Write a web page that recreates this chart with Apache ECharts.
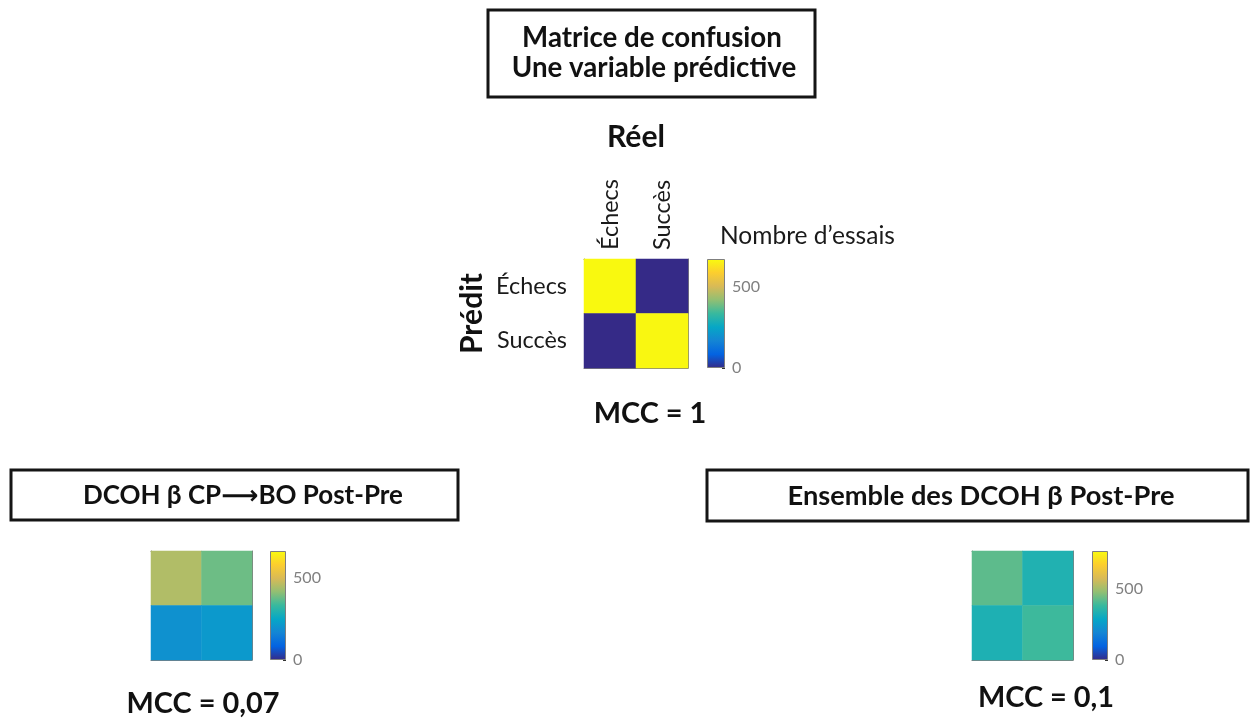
<!DOCTYPE html>
<html>
<head>
<meta charset="utf-8">
<script src="https://cdn.jsdelivr.net/npm/echarts@6/dist/echarts.min.js"></script>
<style>
html,body{margin:0;padding:0;background:#fff;}
#c{width:1255px;height:719px;}
</style>
</head>
<body>
<div id="c"></div>
<script>
// ---------- DATA ----------
const categories = ['Échecs', 'Succès'];           // real (columns) and predicted (rows)
// rows = predicted [Échecs, Succès], columns = real [Échecs, Succès]
const mainValues = [[670, 0], [0, 665]];
const leftValues = [[450, 380], [195, 215]];
const rightValues = [[425, 340], [335, 390]];
const mainMax = 673;
const leftMax = 663;
const rightMax = 770;
const colorbarTicks = [0, 500];
const mainTitleLines = ['Matrice de confusion', 'Une variable prédictive'];
const leftTitle = 'DCOH β CP⟶BO Post-Pre';
const rightTitle = 'Ensemble des DCOH β Post-Pre';
const mccLabels = ['MCC = 1', 'MCC = 0,07', 'MCC = 0,1'];
const colorbarName = 'Nombre d’essais';
const xName = 'Réel';
const yName = 'Prédit';

// ---------- STYLE ----------
const FONT = 'Lato, "Open Sans", "DejaVu Sans", sans-serif';
const parula = ['#352a87', '#0363e1', '#1485d4', '#06a7c6', '#38b99e', '#92bf73', '#d9ba56', '#fcce2e', '#f9fb0e'];
const cv = document.createElement('canvas').getContext('2d');
function fit(text, target, weight) {
  cv.font = (weight || 'normal') + ' 100px ' + FONT;
  return 100 * target / cv.measureText(text).width;
}

function heatData(m) {
  const d = [];
  m.forEach((row, r) => row.forEach((v, c) => d.push([c, r, v])));
  return d;
}

const chart = echarts.init(document.getElementById('c'), null, {renderer: 'canvas'});

const hm = [
  {left: 584, top: 259, width: 104, height: 109, values: mainValues, max: mainMax, cb: {left: 707, width: 18}, labels: true},
  {left: 151, top: 551, width: 101, height: 109, values: leftValues, max: leftMax, cb: {left: 270, width: 16}, labels: false},
  {left: 972, top: 551, width: 101, height: 109, values: rightValues, max: rightMax, cb: {left: 1092, width: 16}, labels: false}
];

const labFs = fit('Échecs', 71, 'normal');
const grids = [], xAxes = [], yAxes = [], series = [], visualMaps = [];
const frame = '#7f7f7f';

hm.forEach((h, i) => {
  const gi = grids.length;
  grids.push({left: h.left, top: h.top, width: h.width, height: h.height, containLabel: false});
  xAxes.push({
    type: 'category', data: categories, gridIndex: gi, position: 'top',
    axisLine: {show: true, lineStyle: {color: frame, width: 1}}, axisTick: {show: false},
    axisLabel: {show: h.labels, rotate: -90, margin: 9, fontSize: labFs, color: '#1a1a1a', fontFamily: FONT},
    name: h.labels ? xName : '', nameLocation: 'middle', nameGap: 107,
    nameTextStyle: {fontSize: fit(xName, 58, 'bold'), fontWeight: 'bold', color: '#111', fontFamily: FONT},
    splitLine: {show: false}
  });
  xAxes.push({
    type: 'category', data: categories, gridIndex: gi, position: 'bottom',
    axisLine: {show: true, lineStyle: {color: frame, width: 1}}, axisTick: {show: false}, axisLabel: {show: false}
  });
  yAxes.push({
    type: 'category', data: categories, gridIndex: gi, position: 'left', inverse: true,
    axisLine: {show: true, lineStyle: {color: frame, width: 1}}, axisTick: {show: false},
    axisLabel: {show: h.labels, margin: 17, padding: [8, 0, 0, 0], fontSize: labFs, color: '#1a1a1a', fontFamily: FONT},
    name: h.labels ? yName : '', nameLocation: 'middle', nameGap: 97, nameRotate: 90,
    nameTextStyle: {fontSize: fit(yName, 81, 'bold'), fontWeight: 'bold', color: '#111', fontFamily: FONT}
  });
  yAxes.push({
    type: 'category', data: categories, gridIndex: gi, position: 'right', inverse: true,
    axisLine: {show: true, lineStyle: {color: frame, width: 1}}, axisTick: {show: false}, axisLabel: {show: false}
  });
  const si = series.length;
  series.push({
    type: 'heatmap', xAxisIndex: xAxes.length - 2, yAxisIndex: yAxes.length - 2,
    data: heatData(h.values), itemStyle: {borderWidth: 0}, emphasis: {disabled: true}, silent: true
  });
  visualMaps.push({
    show: false, type: 'continuous', seriesIndex: si, min: 0, max: h.max, dimension: 2,
    inRange: {color: parula}
  });
  const cg = grids.length;
  grids.push({left: h.cb.left, top: h.top, width: h.cb.width, height: h.height});
  xAxes.push({type: 'category', data: ['c'], gridIndex: cg, show: false});
  yAxes.push({
    type: 'value', gridIndex: cg, min: 0, max: h.max, interval: 500, position: 'right',
    axisLine: {show: false}, splitLine: {show: false},
    axisTick: {show: true, inside: true, length: 3, lineStyle: {color: '#333'}},
    axisLabel: {showMaxLabel: false, margin: 7, fontSize: fit('500', 28, 'normal'), color: '#808080', fontFamily: FONT,
      formatter: v => colorbarTicks.indexOf(v) >= 0 ? String(v) : ''}
  });
  series.push({
    type: 'bar', xAxisIndex: xAxes.length - 1, yAxisIndex: yAxes.length - 1,
    data: [h.max], barWidth: '100%', silent: true, z: 1,
    itemStyle: {
      borderColor: frame, borderWidth: 1,
      color: new echarts.graphic.LinearGradient(0, 1, 0, 0,
        parula.map((c, k) => ({offset: k / (parula.length - 1), color: c})))
    }
  });
});

// ---------- TEXT & BOXES ----------
function txt(text, x, y, size, weight, align, color) {
  return {type: 'text', z: 100, style: {text: text, x: x, y: y, fontSize: size, fontWeight: weight,
    fontFamily: FONT, fill: color || '#111', align: align || 'center', verticalAlign: 'middle'}};
}
function box(x, y, w, h) {
  return {type: 'rect', z: 90, shape: {x: x, y: y, width: w, height: h},
    style: {fill: '#fff', stroke: '#151515', lineWidth: 3}};
}
const tfs = Math.min(fit(mainTitleLines[0], 260, 'bold'), fit(mainTitleLines[1], 285, 'bold'));
const mccFs = fit(mccLabels[1], 153, 'bold');

const graphic = [
  box(488, 10, 327, 87),
  txt(mainTitleLines[0], 652, 38, tfs, 'bold'),
  txt(mainTitleLines[1], 654, 68, tfs, 'bold'),
  txt(colorbarName, 720, 236, fit(colorbarName, 175, 'normal'), 'normal', 'left', '#1a1a1a'),
  txt(mccLabels[0], 650, 414, mccFs, 'bold'),
  box(11, 470, 447, 50),
  txt(leftTitle, 243, 496, fit(leftTitle, 320, 'bold'), 'bold'),
  box(707, 470, 541, 51),
  txt(rightTitle, 981, 496, fit(rightTitle, 387, 'bold'), 'bold'),
  txt(mccLabels[1], 203, 704, mccFs, 'bold'),
  txt(mccLabels[2], 1046, 698, mccFs, 'bold')
];

chart.setOption({
  animation: false,
  backgroundColor: '#fff',
  grid: grids,
  xAxis: xAxes,
  yAxis: yAxes,
  visualMap: visualMaps,
  series: series,
  graphic: graphic
});
</script>
</body>
</html>
